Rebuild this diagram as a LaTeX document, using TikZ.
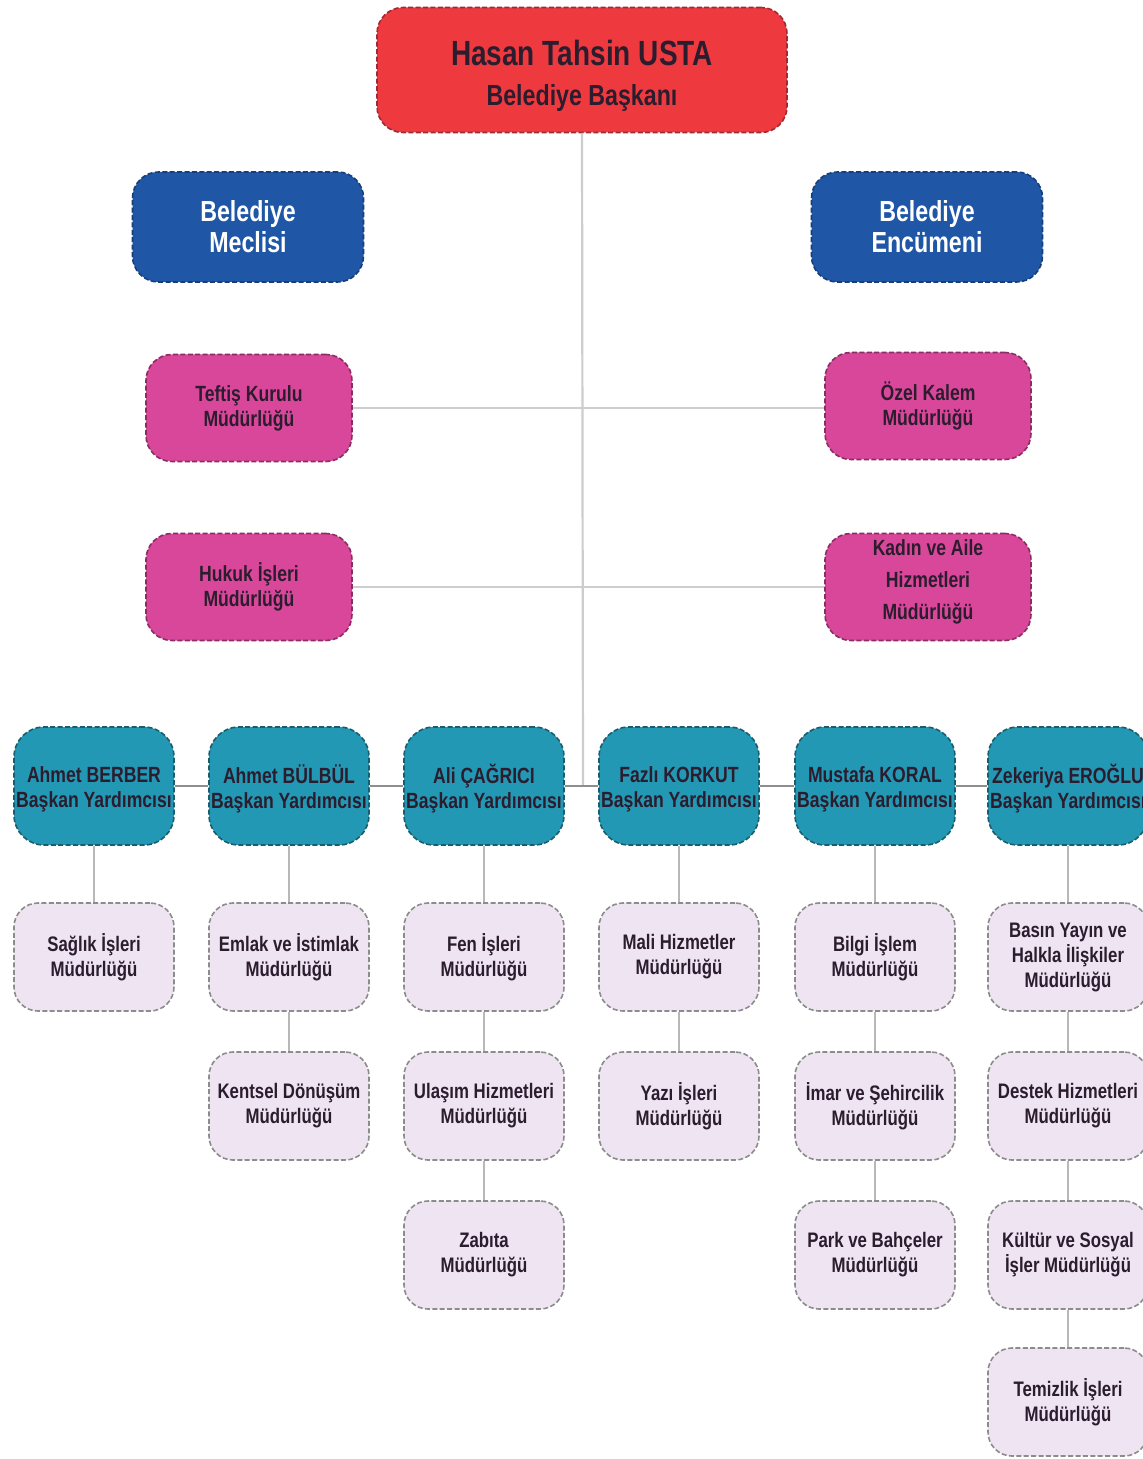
\documentclass[tikz,border=0pt]{standalone}
\usepackage{fontspec}
\setmainfont{Liberation Sans}[FakeStretch=0.8]
\definecolor{cred}{HTML}{EE3A3E}
\definecolor{credb}{HTML}{9E2A33}
\definecolor{cblue}{HTML}{1F57A6}
\definecolor{cblueb}{HTML}{163F78}
\definecolor{cpink}{HTML}{D9479B}
\definecolor{cpinkb}{HTML}{8A2D62}
\definecolor{cteal}{HTML}{2398B4}
\definecolor{ctealb}{HTML}{1A5E6E}
\definecolor{clav}{HTML}{EFE4F1}
\definecolor{clavb}{HTML}{8C8C8C}
\definecolor{ctext}{HTML}{2B1D2E}
\definecolor{ctrunk}{HTML}{CDCDCD}
\definecolor{crow}{HTML}{8E8E8E}
\newcommand{\shiftlines}[2]{\raisebox{#1}[\height][\depth]{\begin{tabular}{@{}c@{}}#2\end{tabular}}}
\begin{document}
\begin{tikzpicture}[x=0.5pt,y=-0.5pt,
  box/.style={draw, line width=0.8pt, dash pattern=on 2.5pt off 1.2pt, align=center, inner sep=0pt, font=\bfseries, text=ctext},
  topbox/.style={box, fill=cred, draw=credb, rounded corners=13pt, minimum width=205pt, minimum height=62.5pt, font=\bfseries\fontsize{14.5}{20}\selectfont},
  bluebox/.style={box, fill=cblue, draw=cblueb, rounded corners=13pt, minimum width=115.5pt, minimum height=55pt, text=white, font=\bfseries\fontsize{14.5}{15.5}\selectfont},
  pinkbox/.style={box, fill=cpink, draw=cpinkb, rounded corners=13pt, minimum width=103pt, minimum height=53.5pt, font=\bfseries\fontsize{11}{12.5}\selectfont},
  tealbox/.style={box, fill=cteal, draw=ctealb, rounded corners=15pt, minimum width=80pt, minimum height=59pt, font=\bfseries\fontsize{11}{12.5}\selectfont},
  lavbox/.style={box, fill=clav, draw=clavb, rounded corners=12pt, minimum width=80pt, minimum height=54pt, font=\bfseries\fontsize{10.5}{12.5}\selectfont},
  trunk/.style={draw=ctrunk, line width=1.1pt},
  rowline/.style={draw=crow, line width=1pt},
  sub/.style={draw=ctrunk!90!black, line width=1pt}
]
\useasboundingbox[fill=white] (0,0) rectangle (1143,1459);

\coordinate (hub) at (583,786);

\node[topbox] (top) at (582,70) {\shiftlines{-4pt}{{\fontsize{17.5}{20}\selectfont Hasan Tahsin USTA}\\[0pt]Belediye Başkanı}};
\node[bluebox] (meclis) at (248,227) {Belediye\\Meclisi};
\node[bluebox] (encumen) at (927,227) {Belediye\\Encümeni};

\node[pinkbox] (teftis) at (249,408) {Teftiş Kurulu\\Müdürlüğü};
\node[pinkbox] (ozel) at (928,406) {Özel Kalem\\Müdürlüğü};
\node[pinkbox] (hukuk) at (249,587) {Hukuk İşleri\\Müdürlüğü};
\node[pinkbox, font=\bfseries\fontsize{11}{16}\selectfont] (kadin) at (928,587) {\shiftlines{3pt}{Kadın ve Aile\\Hizmetleri\\Müdürlüğü}};

\node[tealbox] (t1) at (94,786) {\shiftlines{-2pt}{Ahmet BERBER\\Başkan Yardımcısı}};
\node[tealbox] (t2) at (289,786) {\shiftlines{-2pt}{Ahmet BÜLBÜL\\Başkan Yardımcısı}};
\node[tealbox] (t3) at (484,786) {\shiftlines{-2pt}{Ali ÇAĞRICI\\Başkan Yardımcısı}};
\node[tealbox] (t4) at (679,786) {\shiftlines{-2pt}{Fazlı KORKUT\\Başkan Yardımcısı}};
\node[tealbox] (t5) at (875,786) {\shiftlines{-2pt}{Mustafa KORAL\\Başkan Yardımcısı}};
\node[tealbox] (t6) at (1068,786) {\shiftlines{-2pt}{Zekeriya EROĞLU\\Başkan Yardımcısı}};

\node[lavbox] (saglik) at (94,957) {Sağlık İşleri\\Müdürlüğü};
\node[lavbox] (emlak) at (289,957) {Emlak ve İstimlak\\Müdürlüğü};
\node[lavbox] (kentsel) at (289,1106) {Kentsel Dönüşüm\\Müdürlüğü};
\node[lavbox] (fen) at (484,957) {Fen İşleri\\Müdürlüğü};
\node[lavbox] (ulasim) at (484,1106) {Ulaşım Hizmetleri\\Müdürlüğü};
\node[lavbox] (zabita) at (484,1255) {Zabıta\\Müdürlüğü};
\node[lavbox] (mali) at (679,957) {Mali Hizmetler\\Müdürlüğü};
\node[lavbox] (yazi) at (679,1106) {Yazı İşleri\\Müdürlüğü};
\node[lavbox] (bilgi) at (875,957) {Bilgi İşlem\\Müdürlüğü};
\node[lavbox] (imar) at (875,1106) {İmar ve Şehircilik\\Müdürlüğü};
\node[lavbox] (park) at (875,1255) {Park ve Bahçeler\\Müdürlüğü};
\node[lavbox] (basin) at (1068,957) {Basın Yayın ve\\Halkla İlişkiler\\Müdürlüğü};
\node[lavbox] (destek) at (1068,1106) {Destek Hizmetleri\\Müdürlüğü};
\node[lavbox] (kultur) at (1068,1255) {Kültür ve Sosyal\\İşler Müdürlüğü};
\node[lavbox] (temizlik) at (1068,1402) {Temizlik İşleri\\Müdürlüğü};

\path[trunk] (top.south) -- (hub);
\path[trunk] (teftis.east) -- (teftis.east -| ozel.west);
\path[trunk] (hukuk.east) -- (kadin.west);
\path[rowline] (t1.east) -- (t2.west);
\path[rowline] (t2.east) -- (t3.west);
\path[rowline] (t3.east) -- (t4.west);
\path[rowline] (t4.east) -- (t5.west);
\path[rowline] (t5.east) -- (t6.west);

\foreach \a/\b in {t1/saglik,t2/emlak,emlak/kentsel,t3/fen,fen/ulasim,ulasim/zabita,t4/mali,mali/yazi,t5/bilgi,bilgi/imar,imar/park,t6/basin,basin/destek,destek/kultur,kultur/temizlik}
  \path[sub] (\a.south) -- (\b.north);
\end{tikzpicture}
\end{document}
